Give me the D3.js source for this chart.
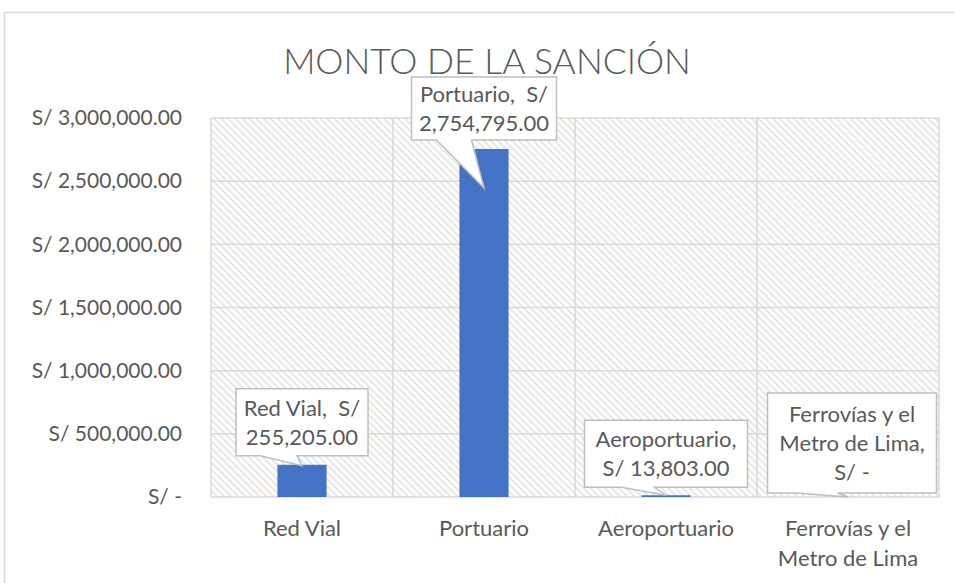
<!DOCTYPE html>
<html>
<head>
<meta charset="utf-8">
<script src="https://cdn.jsdelivr.net/npm/d3@7"></script>
<style>
    body { margin: 0; background: #fff; }
    svg { display: block; font-family: Lato, "Open Sans", sans-serif; }
</style>
</head>
<body>
<div id="chart"></div>
<script>
// data
const categories = ["Red Vial", "Portuario", "Aeroportuario", "Ferrovías y el Metro de Lima"];
const categoryLines = [["Red Vial"], ["Portuario"], ["Aeroportuario"], ["Ferrovías y el", "Metro de Lima"]];
const values = [255205, 2754795, 13803, 0];
const labelLines = [
    ["Red Vial,  S/", "255,205.00"],
    ["Portuario,  S/", "2,754,795.00"],
    ["Aeroportuario,", "S/ 13,803.00"],
    ["Ferrovías y el", "Metro de Lima,", "S/ -"]
];
const tickValues = [0, 500000, 1000000, 1500000, 2000000, 2500000, 3000000];
const tickLabels = ["S/ -", "S/ 500,000.00", "S/ 1,000,000.00", "S/ 1,500,000.00", "S/ 2,000,000.00", "S/ 2,500,000.00", "S/ 3,000,000.00"];
const title = "MONTO DE LA SANCIÓN";

// callout placement relative to the bar top (layout only)
const calloutLayout = [
    { tipDy: 1, dx: 0, top: -76, w: 132, h: 67, tl: 24, tr: 61 },
    { tipDy: 39, dx: 0, top: -72, w: 145, h: 63, tl: 25, tr: 60 },
    { tipDy: 0, dx: 0, top: -75, w: 163, h: 67, tl: 37, tr: 70 },
    { tipDy: 0, dx: 4, top: -104, w: 169, h: 100, tl: 28, tr: 70 }
];

const W = 955, H = 583;
const plot = { left: 211, top: 118, right: 939, bottom: 497 };
const textColor = "#595959";
const gridColor = "#d9d9d9";

const svg = d3.select("#chart").append("svg")
    .attr("width", W)
    .attr("height", H);

// hatch pattern for plot area
const defs = svg.append("defs");
defs.append("pattern")
    .attr("id", "hatch")
    .attr("patternUnits", "userSpaceOnUse")
    .attr("width", 5)
    .attr("height", 5)
    .attr("patternTransform", "rotate(-45)")
    .append("line")
    .attr("x1", 2.5).attr("y1", -1)
    .attr("x2", 2.5).attr("y2", 6)
    .attr("stroke", "#dedede")
    .attr("stroke-width", 1.5);

// outer chart border
svg.append("rect")
    .attr("x", 4.5).attr("y", 12.5)
    .attr("width", W + 20).attr("height", H + 20)
    .attr("fill", "#fff")
    .attr("stroke", gridColor)
    .attr("stroke-width", 1.5);

// scales
const x = d3.scaleBand()
    .domain(categories)
    .range([plot.left, plot.right])
    .padding(0);

const y = d3.scaleLinear()
    .domain([0, 3000000])
    .range([plot.bottom, plot.top]);

const barWidth = x.bandwidth() * 0.27;

// plot background
svg.append("rect")
    .attr("x", plot.left).attr("y", plot.top)
    .attr("width", plot.right - plot.left)
    .attr("height", plot.bottom - plot.top)
    .attr("fill", "url(#hatch)");

// horizontal gridlines
svg.append("g")
    .selectAll("line")
    .data(tickValues)
    .enter().append("line")
    .attr("x1", plot.left).attr("x2", plot.right)
    .attr("y1", d => y(d)).attr("y2", d => y(d))
    .attr("stroke", gridColor)
    .attr("stroke-width", 1.5);

// vertical gridlines at category edges
const edges = categories.map(c => x(c)).concat([x(categories[categories.length - 1]) + x.bandwidth()]);
svg.append("g")
    .selectAll("line")
    .data(edges)
    .enter().append("line")
    .attr("x1", d => d).attr("x2", d => d)
    .attr("y1", plot.top).attr("y2", plot.bottom)
    .attr("stroke", gridColor)
    .attr("stroke-width", 1.5);

// y axis
const yAxis = svg.append("g")
    .attr("transform", "translate(" + plot.left + ",0)")
    .call(d3.axisLeft(y).tickValues(tickValues).tickSize(0).tickPadding(29)
        .tickFormat((d, i) => tickLabels[i]));
yAxis.select(".domain").remove();
yAxis.selectAll("text")
    .attr("fill", textColor)
    .style("font-size", "21px")
    .style("font-family", "Lato, sans-serif");

// bars
svg.append("g")
    .selectAll("rect")
    .data(values)
    .enter().append("rect")
    .attr("x", (d, i) => x(categories[i]) + x.bandwidth() / 2 - barWidth / 2)
    .attr("y", d => y(d))
    .attr("width", barWidth)
    .attr("height", d => plot.bottom - y(d))
    .attr("fill", "#4472c4");

// x labels
const xl = svg.append("g");
categoryLines.forEach((lines, i) => {
    const t = xl.append("text")
        .attr("text-anchor", "middle")
        .attr("fill", textColor)
        .style("font-size", "22px");
    lines.forEach((l, j) => {
        t.append("tspan")
            .attr("x", x(categories[i]) + x.bandwidth() / 2)
            .attr("y", 536 + j * 30)
            .text(l);
    });
});

// title
svg.append("text")
    .attr("x", 487)
    .attr("y", 74)
    .attr("text-anchor", "middle")
    .attr("fill", textColor)
    .style("font-size", "35.5px")
    .style("font-weight", 300)
    .text(title);

// callouts
const callouts = svg.append("g");
values.forEach((v, i) => {
    const L = calloutLayout[i];
    const cx = x(categories[i]) + x.bandwidth() / 2;
    const barTop = y(v);
    const tipX = cx, tipY = barTop + L.tipDy;
    const left = cx + L.dx - L.w / 2;
    const top = barTop + L.top;
    const right = left + L.w, bottom = top + L.h;

    const p = d3.path();
    p.moveTo(left, top);
    p.lineTo(right, top);
    p.lineTo(right, bottom);
    p.lineTo(left + L.tr, bottom);
    p.lineTo(tipX, tipY);
    p.lineTo(left + L.tl, bottom);
    p.lineTo(left, bottom);
    p.closePath();

    callouts.append("path")
        .attr("d", p.toString())
        .attr("fill", "#fff")
        .attr("stroke", "#bfbfbf")
        .attr("stroke-width", 1.5);

    const n = labelLines[i].length;
    const midY = top + L.h / 2;
    const t = callouts.append("text")
        .attr("text-anchor", "middle")
        .attr("fill", textColor)
        .style("white-space", "pre")
        .style("font-size", "22px");
    labelLines[i].forEach((l, j) => {
        t.append("tspan")
            .attr("x", left + L.w / 2)
            .attr("y", midY + (j - (n - 1) / 2) * 29 + 8)
            .text(l);
    });
});
</script>
</body>
</html>
